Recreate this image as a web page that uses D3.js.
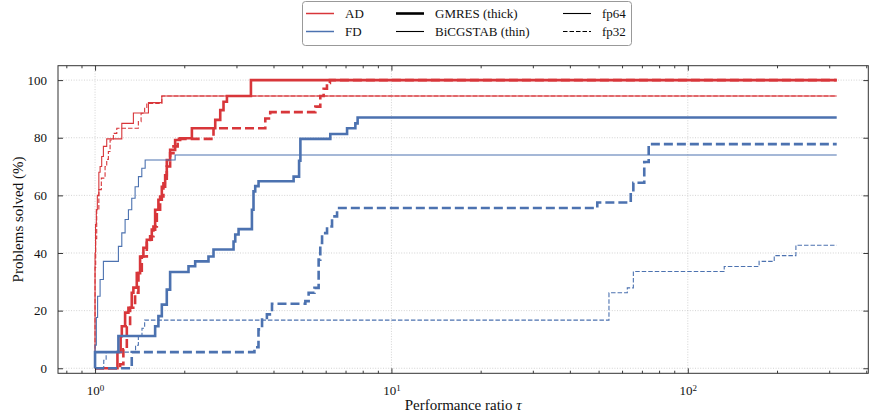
<!DOCTYPE html>
<html><head><meta charset="utf-8">
<script src="https://cdn.jsdelivr.net/npm/d3@7"></script>
<style>
body{margin:0;background:#fff}
svg{display:block}
text{font-family:"Liberation Serif","Times New Roman",serif;fill:#111}
</style>
</head><body>
<svg id="chart" width="870" height="418"></svg>
<script>
// ---- data: [tau, % problems solved], step-after ----
const adGmresFp64 = [[1,0],[1.19,5.6],[1.22,11.1],[1.231,14.6],[1.263,19.3],[1.296,21],[1.33,26.2],[1.347,28],[1.383,33],[1.419,38.8],[1.456,41.8],[1.495,44.6],[1.554,48.1],[1.595,55],[1.636,58.5],[1.68,63],[1.724,67],[1.746,72.3],[1.792,75.8],[1.863,79.2],[1.937,79.8],[2.122,83.3],[2.544,86.2],[2.645,89.6],[2.713,92.5],[2.786,94.5],[3.357,100],[318,100]];
const adGmresFp32 = [[1,0],[1.215,1.4],[1.246,6.6],[1.28,14.6],[1.313,21],[1.365,26.2],[1.401,33],[1.438,38.8],[1.495,43.5],[1.534,45.8],[1.574,49.2],[1.616,55],[1.658,59.6],[1.701,64.2],[1.746,70],[1.792,74.6],[1.839,77],[1.9,79.6],[2.51,83.3],[3.753,86.7],[3.9,88.9],[5.537,90.8],[5.754,94.5],[5.906,97],[6.06,99],[6.2,100],[318,100]];
const adBicgFp64 = [[1,0],[1,40],[1.004,50],[1.01,55],[1.018,60],[1.03,68],[1.04,70],[1.053,73.5],[1.067,77],[1.095,79.6],[1.231,85],[1.347,88.6],[1.514,92.2],[1.68,94.5],[318,94.5]];
const adBicgFp32 = [[1,0],[1,35],[1.005,45],[1.013,55],[1.03,62],[1.05,66],[1.081,70],[1.095,72.5],[1.109,75.2],[1.124,79.2],[1.153,81.5],[1.184,83.3],[1.40,85.6],[1.43,88.5],[1.47,90.5],[1.495,91.9],[1.68,94.5],[318,94.5]];
const fdGmresFp64 = [[1,0],[1,5.6],[1.199,11.2],[1.595,14.6],[1.636,18.1],[1.68,22.1],[1.746,27.3],[1.792,33.4],[2.067,35.4],[2.177,37.1],[2.414,38.8],[2.51,41.2],[2.933,44],[2.972,46.4],[3.05,48.3],[3.383,55],[3.425,61.4],[3.471,63.2],[3.562,64.9],[4.677,66.5],[4.88,72],[4.93,79.6],[6.22,81.3],[7.085,83.3],[7.556,85],[7.69,87],[318,87]];
const fdGmresFp32 = [[1,0],[1.33,5.6],[3.45,7.3],[3.56,13.5],[3.66,17.5],[3.80,18.7],[3.954,22.4],[5.124,23.3],[5.256,26.2],[5.5,27.9],[5.681,37.7],[5.754,43.5],[5.834,46.9],[6.064,49.2],[6.304,52.7],[6.555,55.6],[49.5,57.5],[64.2,60.9],[65.5,64.4],[71.3,71.6],[73.8,77.8],[318,77.8]];
const fdBicgFp64 = [[1,0],[1,8],[1.01,17.6],[1.02,25],[1.04,30.8],[1.067,37.1],[1.199,42.3],[1.231,47],[1.263,51.6],[1.296,55],[1.33,59],[1.365,63],[1.401,66.5],[1.438,69.4],[1.476,72.3],[1.863,74],[318,74]];
const fdBicgFp32 = [[1,0],[1.07,2.8],[1.09,5.6],[1.37,8],[1.40,11.1],[1.44,13.9],[1.47,16.7],[54.2,26.2],[62.5,27.9],[65.5,33.6],[132.7,35.3],[174,37.1],[195.7,39.1],[231.6,42.7],[318,42.7]];

const xMajorTicks = [1, 10, 100];
const xMinorTicks = [0.8, 0.9, 2, 3, 4, 5, 6, 7, 8, 9, 20, 30, 40, 50, 60, 70, 80, 90, 200, 300, 400];
const yTicks = [0, 20, 40, 60, 80, 100];
const methodLabels = ["AD", "FD"];
const solverLabels = ["GMRES (thick)", "BiCGSTAB (thin)"];
const precisionLabels = ["fp64", "fp32"];

const RED = "#d8363a", BLUE = "#4c72b0";
const series = [
  {data: adGmresFp64, color: RED, w: 2.6, dash: null},
  {data: adGmresFp32, color: RED, w: 2.6, dash: "9,4"},
  {data: adBicgFp64, color: RED, w: 1.1, dash: null},
  {data: adBicgFp32, color: RED, w: 1.1, dash: "4.5,2"},
  {data: fdGmresFp64, color: BLUE, w: 2.6, dash: null},
  {data: fdGmresFp32, color: BLUE, w: 2.6, dash: "9,4"},
  {data: fdBicgFp64, color: BLUE, w: 1.1, dash: null},
  {data: fdBicgFp32, color: BLUE, w: 1.1, dash: "4.5,2"}
];

const L = 58, R = 868.3, T = 65.7, B = 373.3;
const svg = d3.select("#chart");
const x = d3.scaleLog().domain([Math.pow(10, -0.125), Math.pow(10, 2.609)]).range([L, R]);
const y = d3.scaleLinear().domain([-1.75, 105]).range([B, T]);

// grid
const grid = svg.append("g").attr("stroke", "#c8c8c8").attr("stroke-width", 0.8).attr("stroke-dasharray", "1,1.6");
grid.selectAll(".gx").data(xMajorTicks).join("line")
  .attr("x1", d => x(d)).attr("x2", d => x(d)).attr("y1", T).attr("y2", B);
grid.selectAll(".gy").data(yTicks).join("line")
  .attr("x1", L).attr("x2", R).attr("y1", d => y(d)).attr("y2", d => y(d));

// lines
const line = d3.line().x(d => x(d[0])).y(d => y(d[1])).curve(d3.curveStepAfter);
const plot = svg.append("g");
series.forEach(s => {
  plot.append("path").attr("d", line(s.data)).attr("fill", "none")
    .attr("stroke", s.color).attr("stroke-width", s.w)
    .attr("stroke-dasharray", s.dash).attr("stroke-linejoin", "miter");
});

// axes (inward ticks on all sides)
const axCol = "#222";
function style(g) { g.select(".domain").remove(); g.selectAll("line").attr("stroke", axCol).attr("stroke-width", 0.9); }
svg.append("g").attr("transform", `translate(0,${B})`)
  .call(d3.axisBottom(x).tickValues(xMajorTicks).tickSize(-5).tickPadding(10).tickFormat(() => ""))
  .call(style)
  .call(g => g.selectAll(".tick text").each(function(d) {
    const t = d3.select(this).attr("font-size", 13).attr("dy", "0.9em");
    t.append("tspan").text("10");
    t.append("tspan").attr("dy", "-0.45em").attr("font-size", 9).text(Math.round(Math.log10(d)));
  }));
svg.append("g").attr("transform", `translate(0,${B})`)
  .call(d3.axisBottom(x).tickValues(xMinorTicks).tickSize(-2.6).tickFormat(() => "")).call(style);
svg.append("g").attr("transform", `translate(0,${T})`)
  .call(d3.axisTop(x).tickValues(xMajorTicks).tickSize(-5).tickFormat(() => "")).call(style);
svg.append("g").attr("transform", `translate(0,${T})`)
  .call(d3.axisTop(x).tickValues(xMinorTicks).tickSize(-2.6).tickFormat(() => "")).call(style);
svg.append("g").attr("transform", `translate(${L},0)`)
  .call(d3.axisLeft(y).tickValues(yTicks).tickSize(-5).tickPadding(11))
  .call(style)
  .call(g => g.selectAll(".tick text").attr("font-size", 13).attr("fill", "#111"));
svg.append("g").attr("transform", `translate(${R},0)`)
  .call(d3.axisRight(y).tickValues(yTicks).tickSize(-5).tickFormat(() => "")).call(style);

// frame
svg.append("rect").attr("x", L).attr("y", T).attr("width", R - L).attr("height", B - T)
  .attr("fill", "none").attr("stroke", "#333").attr("stroke-width", 1);

// axis labels
svg.append("text").attr("x", (L + R) / 2).attr("y", 410).attr("text-anchor", "middle").attr("font-size", 15)
  .call(t => { t.append("tspan").text("Performance ratio "); t.append("tspan").attr("font-style", "italic").text("τ"); });
svg.append("text").attr("transform", `translate(23,${(T + B) / 2}) rotate(-90)`).attr("text-anchor", "middle")
  .attr("font-size", 15).text("Problems solved (%)");

// legend
const lg = svg.append("g");
lg.append("rect").attr("x", 302.5).attr("y", 1.5).attr("width", 329).attr("height", 44).attr("rx", 3)
  .attr("fill", "#fff").attr("stroke", "#999").attr("stroke-width", 1);
const rows = [13.5, 31.5];
const legendItems = [
  {x: 306, label: methodLabels[0], color: RED, w: 1.5, dash: null, row: 0},
  {x: 306, label: methodLabels[1], color: BLUE, w: 1.5, dash: null, row: 1},
  {x: 396, label: solverLabels[0], color: "#000", w: 2.6, dash: null, row: 0},
  {x: 396, label: solverLabels[1], color: "#000", w: 1.1, dash: null, row: 1},
  {x: 563, label: precisionLabels[0], color: "#000", w: 1.1, dash: null, row: 0},
  {x: 563, label: precisionLabels[1], color: "#000", w: 1.1, dash: "4.5,2", row: 1}
];
legendItems.forEach(it => {
  const yy = rows[it.row];
  lg.append("line").attr("x1", it.x).attr("x2", it.x + 28).attr("y1", yy).attr("y2", yy)
    .attr("stroke", it.color).attr("stroke-width", it.w).attr("stroke-dasharray", it.dash);
  lg.append("text").attr("x", it.x + 39).attr("y", yy + 4.5).attr("font-size", 13).text(it.label);
});
</script>
</body></html>
